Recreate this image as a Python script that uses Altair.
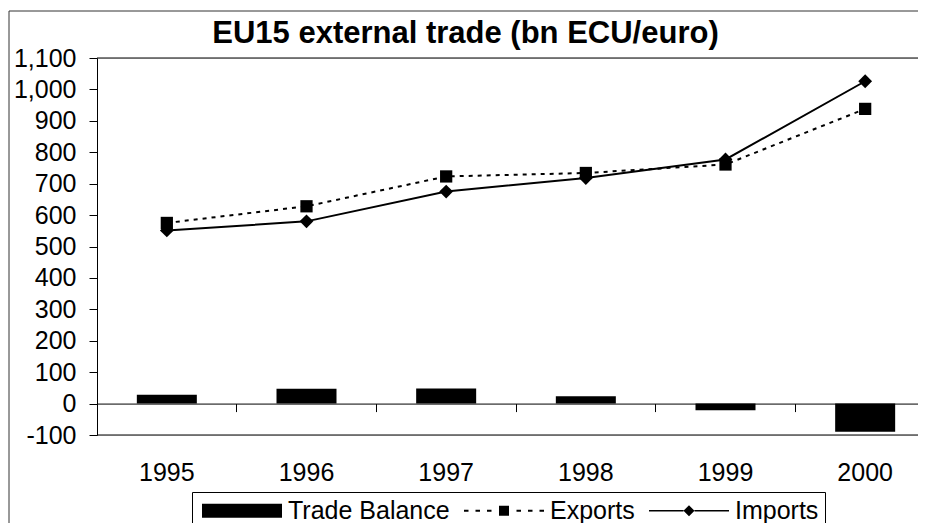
import altair as alt
import pandas as pd

# ---- data ----
years = ["1995", "1996", "1997", "1998", "1999", "2000"]
exports = [575, 628, 723, 734, 761, 938]
imports = [551, 580, 675, 718, 777, 1026]
balance = [28, 47, 48, 23, -21, -90]
series_names = ["Trade Balance", "Exports", "Imports"]
y_ticks = list(range(-100, 1101, 100))
title_text = "EU15 external trade (bn ECU/euro)"

# ---- layout ----
W, H = 821, 377
PAD_L, PAD_T = 89, 50
PAD_R = 910 - PAD_L - W
PAD_B = 515 - PAD_T - H
FONT = "Liberation Sans"

df = pd.DataFrame({
    "year": years * 3,
    "series": ["Trade Balance"] * 6 + ["Exports"] * 6 + ["Imports"] * 6,
    "value": balance + exports + imports,
})
frame_df = pd.DataFrame({"k": [0]})

# legend symbol paths (unit = sqrt(symbolSize)/2 px)
def rect(a, b, h):
    return f"M{a},{-h}H{b}V{h}H{a}Z"

tb_path = rect(-0.85, 7.15, 0.7)
dash_segs = [(-0.85, -0.4), (0.3, 0.75), (1.45, 1.9), (4.4, 4.85), (5.55, 6.0), (6.7, 7.15)]
ex_path = " ".join(rect(a, b, 0.1) for a, b in dash_segs) + " " + rect(2.65, 3.65, 0.5)
im_path = rect(-0.85, 2.6, 0.075) + " " + rect(3.7, 7.15, 0.075) + " M3.15,-0.55L3.7,0L3.15,0.55L2.6,0Z"

x_axis = alt.Axis(
    orient="bottom", offset=-(H * 100 / 1200), bandPosition=0,
    tickSize=8, tickColor="black", domainColor="black", domainWidth=1,
    labelPadding=49, labelFontSize=25, labelFont=FONT, labelColor="black",
    labelAngle=0, grid=False, title=None,
)
y_axis = alt.Axis(
    values=y_ticks, tickCount=len(y_ticks), format=",.0f", tickSize=8,
    labelExpr="replace(datum.label, '\u2212', '-')",
    tickColor="black", domainColor="black", domainWidth=1, labelPadding=13,
    labelFontSize=25, labelFont=FONT, labelColor="black",
    labelOverlap=False, labelFlush=False, grid=False, title=None,
)
x_scale = alt.Scale(domain=years, range=[0, 838], paddingInner=0, paddingOuter=0)
y_scale = alt.Scale(domain=[-100, 1100], nice=False, zero=False)

def xe():
    return alt.X("year:N", scale=x_scale, axis=x_axis)

def ye():
    return alt.Y("value:Q", scale=y_scale, axis=y_axis)

base = alt.Chart(df)

bars = base.transform_filter("datum.series == 'Trade Balance'").mark_bar(
    color="black", width=60
).encode(x=xe(), y=ye())

ex_line = base.transform_filter("datum.series == 'Exports'").mark_line(
    color="black", strokeDash=[4, 5], strokeWidth=2
).encode(x=xe(), y=ye())
im_line = base.transform_filter("datum.series == 'Imports'").mark_line(
    color="black", strokeWidth=2
).encode(x=xe(), y=ye())
ex_pts = base.transform_filter("datum.series == 'Exports'").mark_point(
    shape="square", filled=True, size=150, color="black", opacity=1
).encode(x=xe(), y=ye())
im_pts = base.transform_filter("datum.series == 'Imports'").mark_point(
    shape="diamond", filled=True, size=190, color="black", opacity=1
).encode(x=xe(), y=ye())

legend_layer = base.transform_filter("datum.value > 100000").mark_point(
    filled=True, color="black", opacity=1
).encode(
    x=xe(), y=ye(),
    shape=alt.Shape(
        "series:N",
        scale=alt.Scale(domain=series_names, range=[tb_path, ex_path, im_path]),
        legend=alt.Legend(
            orient="none", legendX=95, legendY=434, direction="horizontal",
            title=None, symbolSize=400, symbolStrokeWidth=0,
            symbolFillColor="black", symbolOffset=0,
            labelFontSize=25, labelFont=FONT, labelColor="black",
            labelOffset=65, labelLimit=400, padding=6, columnPadding=10,
            strokeColor="black", fillColor="white",
        ),
    ),
)

top_rule = alt.Chart(frame_df).mark_rule(color="black", strokeWidth=1).encode(
    y=alt.datum(1100), x=alt.value(0), x2=alt.value(W)
)
bottom_rule = alt.Chart(frame_df).mark_rule(color="black", strokeWidth=1).encode(
    y=alt.datum(-100), x=alt.value(0), x2=alt.value(W)
)
outer_left = alt.Chart(frame_df).mark_rule(color="#333333", strokeWidth=1).encode(
    x=alt.value(-88), y=alt.value(-47), y2=alt.value(H + PAD_B)
)
outer_top = alt.Chart(frame_df).mark_rule(color="#333333", strokeWidth=1).encode(
    x=alt.value(-88), x2=alt.value(W), y=alt.value(-47)
)

chart = alt.layer(
    top_rule, bottom_rule, outer_left, outer_top,
    bars, ex_line, im_line, ex_pts, im_pts, legend_layer,
).properties(
    width=W, height=H,
    padding={"left": PAD_L, "top": PAD_T, "right": PAD_R, "bottom": PAD_B},
    autosize=alt.AutoSizeParams(type="none"),
    title=alt.Title(
        title_text, fontSize=31, font=FONT, fontWeight="bold", color="black",
        anchor="middle", frame="group", dx=-42, dy=74, offset=11,
        baseline="alphabetic",
    ),
).configure_view(stroke=None).configure(background="white").configure_axis(
    labelOverlap=False
)

chart.save("out.html", embed_options={"renderer": "svg", "actions": False})
